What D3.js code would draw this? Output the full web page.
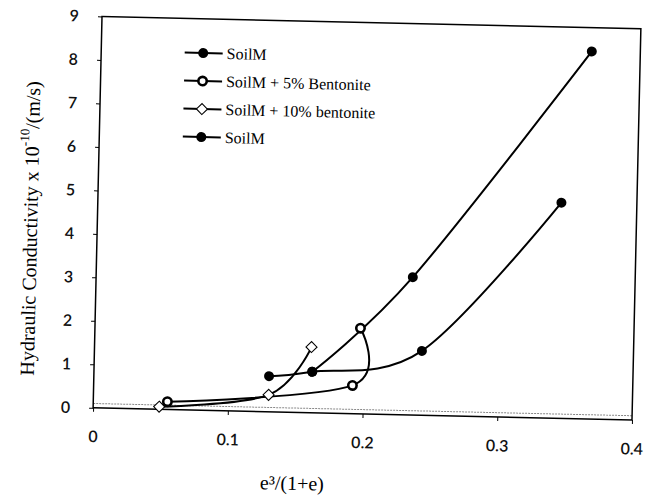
<!DOCTYPE html>
<html>
<head>
<meta charset="utf-8">
<script src="https://cdn.jsdelivr.net/npm/d3@7"></script>
<style>
  html, body { margin: 0; padding: 0; background: #fff; }
  svg { display: block; }
</style>
</head>
<body>
<svg id="chart" width="656" height="497"></svg>
<script>
// ---- data ----
const xTicks = [0, 0.1, 0.2, 0.3, 0.4];
const yTicks = [0, 1, 2, 3, 4, 5, 6, 7, 8, 9];

const soilM1X = [0.162, 0.235, 0.364];
const soilM1Y = [0.945, 3.17, 8.45];

const bent5X = [0.055, 0.192, 0.197];
const bent5Y = [0.18, 0.65, 1.97];

const bent10X = [0.049, 0.130, 0.161];
const bent10Y = [0.06, 0.39, 1.51];

const soilM2X = [0.130, 0.162, 0.243, 0.344];
const soilM2Y = [0.82, 0.945, 1.48, 4.96];

const refLineY = [0.1];

const legendLabels = ["SoilM", "SoilM + 5% Bentonite", "SoilM + 10% bentonite", "SoilM"];
const xTitle = "e³/(1+e)";

// ---- layout ----
const L = 97.5, R = 636.5, T = 22.5, B = 414;
const svg = d3.select("#chart");
const g = svg.append("g").attr("transform", "rotate(1.3, 367, 218)");

const x = d3.scaleLinear().domain([0, 0.4]).range([L, R]);
const y = d3.scaleLinear().domain([0, 9]).range([B, T]);

const tickFont = "Lato, 'Open Sans', sans-serif";
const serif = "'Liberation Serif', 'DejaVu Serif', serif";

// reference dotted line
g.selectAll("line.ref").data(refLineY).enter().append("line")
  .attr("class", "ref")
  .attr("x1", L).attr("x2", R)
  .attr("y1", d => y(d)).attr("y2", d => y(d))
  .attr("stroke", "#888").attr("stroke-width", 1)
  .attr("stroke-dasharray", "2,1");

// frame
g.append("rect").attr("x", L).attr("y", T).attr("width", R - L).attr("height", B - T)
  .attr("fill", "none").attr("stroke", "#000").attr("stroke-width", 1.5);

// axes
const xAxis = g.append("g").attr("transform", `translate(0,${B})`)
  .call(d3.axisBottom(x).tickValues(xTicks).tickFormat(d => d === 0 ? "0" : d3.format(".1f")(d))
    .tickSize(4).tickSizeOuter(0).tickPadding(19));
const yAxis = g.append("g").attr("transform", `translate(${L},0)`)
  .call(d3.axisLeft(y).tickValues(yTicks).tickFormat(d3.format("d"))
    .tickSize(4).tickSizeOuter(0).tickPadding(19));
[xAxis, yAxis].forEach(a => {
  a.select(".domain").remove();
  a.selectAll("line").attr("stroke", "#000").attr("stroke-width", 1);
  a.selectAll("text").attr("font-family", tickFont).attr("font-size", 16)
    .attr("font-weight", 600).attr("fill", "#111");
});

// axis titles
const yt = g.append("text")
  .attr("transform", "translate(30.4,236) rotate(-90)")
  .attr("text-anchor", "middle").attr("dominant-baseline", "central")
  .attr("font-family", serif).attr("font-size", 20).attr("fill", "#000");
yt.append("tspan").text("Hydraulic Conductivity x 10");
yt.append("tspan").attr("baseline-shift", "super").attr("font-size", 13).text("-10");
yt.append("tspan").text("/(m/s)");

g.append("text").attr("x", 298).attr("y", 484.6)
  .attr("text-anchor", "middle").attr("dominant-baseline", "central")
  .attr("font-family", serif).attr("font-size", 20).attr("fill", "#000")
  .text(xTitle);

// series
const series = [
  { xs: soilM1X, ys: soilM1Y, marker: "filled" },
  { xs: bent5X, ys: bent5Y, marker: "ring" },
  { xs: bent10X, ys: bent10Y, marker: "diamond" },
  { xs: soilM2X, ys: soilM2Y, marker: "filled" }
];

const line = d3.line().x(d => x(d[0])).y(d => y(d[1])).curve(d3.curveCardinal.tension(0));

function drawMarker(sel, type, cx, cy) {
  if (type === "filled") {
    sel.append("circle").attr("cx", cx).attr("cy", cy).attr("r", 5).attr("fill", "#000");
  } else if (type === "ring") {
    sel.append("circle").attr("cx", cx).attr("cy", cy).attr("r", 4.2)
      .attr("fill", "#fff").attr("stroke", "#000").attr("stroke-width", 2.6);
  } else {
    const s = 5.5;
    sel.append("path")
      .attr("d", `M${cx},${cy - s}L${cx + s},${cy}L${cx},${cy + s}L${cx - s},${cy}Z`)
      .attr("fill", "#fff").attr("stroke", "#000").attr("stroke-width", 1.1);
  }
}

series.forEach(s => {
  const pts = s.xs.map((v, i) => [v, s.ys[i]]);
  g.append("path").datum(pts).attr("d", line)
    .attr("fill", "none").attr("stroke", "#000").attr("stroke-width", 2);
});
series.forEach(s => {
  const mg = g.append("g");
  s.xs.forEach((v, i) => drawMarker(mg, s.marker, x(v), y(s.ys[i])));
});

// legend
const lg = g.append("g");
legendLabels.forEach((lab, i) => {
  const ly = 56.8 + i * 28;
  lg.append("line").attr("x1", 181).attr("x2", 219).attr("y1", ly).attr("y2", ly)
    .attr("stroke", "#000").attr("stroke-width", 2);
  drawMarker(lg, series[i].marker, 199.5, ly);
  lg.append("text").attr("x", 223).attr("y", ly).attr("dominant-baseline", "central")
    .attr("font-family", serif).attr("font-size", 16).attr("fill", "#000").text(lab);
});
</script>
</body>
</html>
